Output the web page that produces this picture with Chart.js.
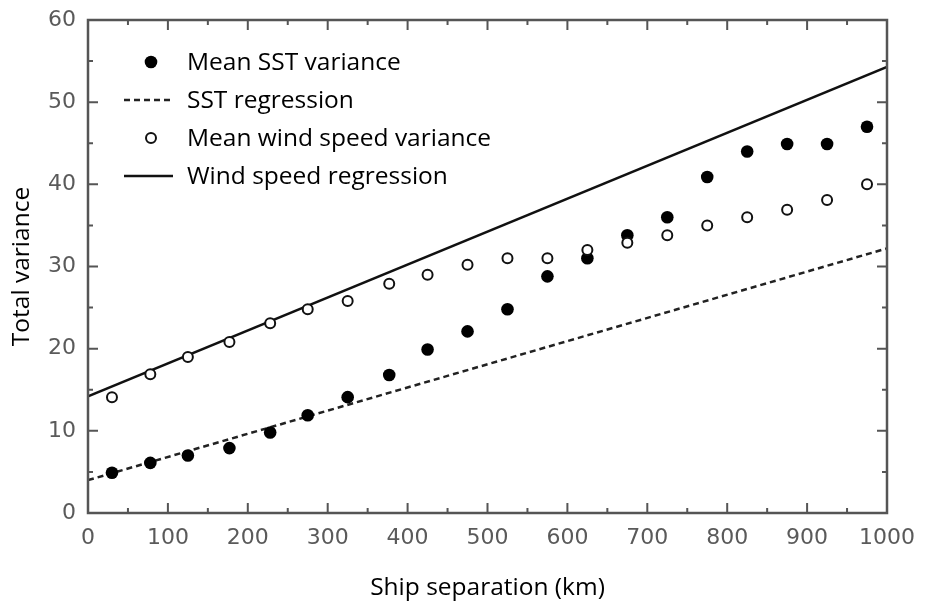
<!DOCTYPE html>
<html lang="en">
<head>
  <meta charset="UTF-8">
  <title>Total variance vs ship separation</title>
  <script src="https://cdn.jsdelivr.net/npm/chart.js"></script>
  <style>
    html, body { margin: 0; padding: 0; background: #fff; }
    .wrap { width: 925px; height: 603px; }
  </style>
</head>
<body>
  <div class="wrap">
    <canvas id="varChart" width="925" height="603"></canvas>
  </div>

  <script>
    // Values
    const separation = [30, 78, 125, 177, 228, 275, 325, 377, 425, 475, 525, 575, 625, 675, 725, 775, 825, 875, 925, 975];
    const sstVariance = [4.9, 6.1, 7.0, 7.9, 9.8, 11.9, 14.1, 16.8, 19.9, 22.1, 24.8, 28.8, 31.0, 33.8, 36.0, 40.9, 44.0, 44.9, 44.9, 47.0];
    const windVariance = [14.1, 16.9, 19.0, 20.8, 23.1, 24.8, 25.8, 27.9, 29.0, 30.2, 31.0, 31.0, 32.0, 32.9, 33.8, 35.0, 36.0, 36.9, 38.1, 40.0];
    const regressionX = [0, 1000];
    const sstRegression = [4.0, 32.2];
    const windRegression = [14.2, 54.3];
    const legendLabels = ["Mean SST variance", "SST regression", "Mean wind speed variance", "Wind speed regression"];

    const toPoints = (xs, ys) => xs.map((x, i) => ({ x: x, y: ys[i] }));

    // frame box with inward major/minor ticks on all four sides
    const framePlugin = {
      id: 'frame',
      afterDraw(chart) {
        const { ctx, chartArea: a, scales } = chart;
        ctx.save();
        ctx.strokeStyle = '#555';
        ctx.lineWidth = 2.5;
        ctx.strokeRect(a.left, a.top, a.right - a.left, a.bottom - a.top);
        ctx.beginPath();
        for (let v = 0; v <= 1000; v += 50) {
          const px = scales.x.getPixelForValue(v);
          const len = v % 100 === 0 ? 10 : 5;
          ctx.moveTo(px, a.bottom); ctx.lineTo(px, a.bottom - len);
          ctx.moveTo(px, a.top); ctx.lineTo(px, a.top + len);
        }
        for (let v = 0; v <= 60; v += 5) {
          const py = scales.y.getPixelForValue(v);
          const len = v % 10 === 0 ? 10 : 5;
          ctx.moveTo(a.left, py); ctx.lineTo(a.left + len, py);
          ctx.moveTo(a.right, py); ctx.lineTo(a.right - len, py);
        }
        ctx.lineWidth = 2;
        ctx.stroke();
        ctx.restore();
      }
    };

    // legend drawn inside the plot area, upper left
    const insideLegend = {
      id: 'insideLegend',
      afterDraw(chart) {
        const { ctx, chartArea: a } = chart;
        const symX = a.left + 63;
        const textX = a.left + 99;
        ctx.save();
        ctx.font = '24.5px "Open Sans"';
        ctx.textBaseline = 'middle';
        chart.data.datasets.forEach((ds, i) => {
          const y = a.top + 42 + i * 38;
          if (ds.showLine) {
            ctx.beginPath();
            ctx.strokeStyle = ds.borderColor;
            ctx.lineWidth = ds.borderWidth;
            ctx.setLineDash(ds.borderDash || []);
            ctx.moveTo(symX - 27, y);
            ctx.lineTo(symX + 22, y);
            ctx.stroke();
            ctx.setLineDash([]);
          } else {
            ctx.beginPath();
            ctx.arc(symX, y, ds.pointRadius, 0, Math.PI * 2);
            ctx.fillStyle = ds.backgroundColor;
            ctx.fill();
            if (ds.borderWidth) {
              ctx.strokeStyle = ds.borderColor;
              ctx.lineWidth = ds.borderWidth;
              ctx.stroke();
            }
          }
          ctx.fillStyle = '#000';
          ctx.fillText(ds.label, textX, y + 1);
        });
        ctx.restore();
      }
    };

    const tickFont = { family: 'DejaVu Sans', size: 22 };
    const titleFont = { family: 'Open Sans', size: 24.5 };

    const ctx = document.getElementById('varChart').getContext('2d');
    const varChart = new Chart(ctx, {
      type: 'scatter',
      data: {
        datasets: [
          {
            label: legendLabels[0],
            data: toPoints(separation, sstVariance),
            pointRadius: 6.3,
            backgroundColor: '#000',
            borderColor: '#000',
            borderWidth: 0,
            order: 1
          },
          {
            label: legendLabels[1],
            data: toPoints(regressionX, sstRegression),
            showLine: true,
            pointRadius: 0,
            borderColor: '#222',
            borderWidth: 2.5,
            borderDash: [6, 4],
            order: 3
          },
          {
            label: legendLabels[2],
            data: toPoints(separation, windVariance),
            pointRadius: 5,
            backgroundColor: '#fff',
            borderColor: '#111',
            borderWidth: 2,
            order: 0
          },
          {
            label: legendLabels[3],
            data: toPoints(regressionX, windRegression),
            showLine: true,
            pointRadius: 0,
            borderColor: '#111',
            borderWidth: 2.5,
            order: 2
          }
        ]
      },
      options: {
        responsive: false,
        animation: false,
        devicePixelRatio: 1,
        layout: { padding: { top: 20, right: 38, left: 0, bottom: 0 } },
        scales: {
          x: {
            type: 'linear',
            min: 0,
            max: 1000,
            grid: { display: false, drawTicks: false },
            border: { display: false },
            ticks: {
              stepSize: 100,
              maxRotation: 0,
              padding: 12,
              color: '#5a5a5a',
              font: tickFont,
              callback: v => String(v)
            },
            title: {
              display: true,
              text: 'Ship separation (km)',
              color: '#000',
              font: titleFont,
              padding: { top: 0, bottom: 0 }
            },
            afterFit: s => { s.height = 90; s.paddingLeft = 0; s.paddingRight = 0; }
          },
          y: {
            min: 0,
            max: 60,
            grid: { display: false, drawTicks: false },
            border: { display: false },
            ticks: {
              stepSize: 10,
              padding: 12,
              color: '#5a5a5a',
              font: tickFont,
              callback: v => String(v)
            },
            title: {
              display: true,
              text: 'Total variance',
              color: '#000',
              font: titleFont,
              padding: { top: 7, bottom: 0 }
            },
            afterFit: s => { s.width = 88; s.paddingTop = 0; s.paddingBottom = 0; }
          }
        },
        plugins: {
          legend: { display: false },
          tooltip: { enabled: false }
        }
      },
      plugins: [framePlugin, insideLegend]
    });
  </script>
</body>
</html>
